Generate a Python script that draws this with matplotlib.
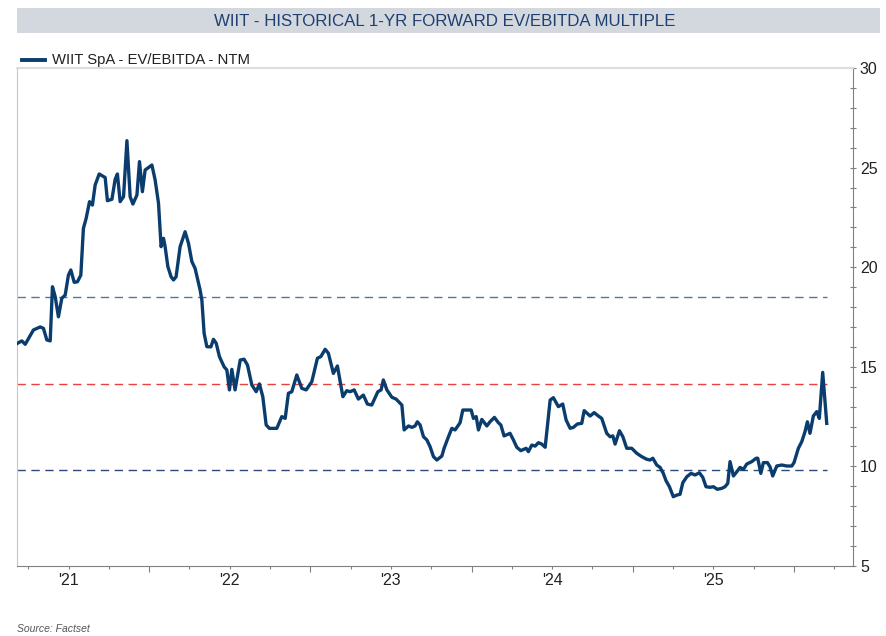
import matplotlib
matplotlib.use('Agg')
import numpy as np
import matplotlib.pyplot as plt
from matplotlib.lines import Line2D
from matplotlib.patches import Rectangle

# decimal years, values
dates = [2021.183, 2021.210, 2021.231, 2021.282, 2021.324, 2021.344, 2021.365, 2021.386,
         2021.400, 2021.417, 2021.437, 2021.458, 2021.479, 2021.499, 2021.514, 2021.535,
         2021.555, 2021.576, 2021.592, 2021.609, 2021.630, 2021.648, 2021.665, 2021.690,
         2021.727, 2021.741, 2021.769, 2021.789, 2021.803, 2021.820, 2021.841, 2021.862,
         2021.882, 2021.899, 2021.924, 2021.940, 2021.958, 2021.975, 2022.017, 2022.037,
         2022.058, 2022.074, 2022.089, 2022.099, 2022.116, 2022.136, 2022.151, 2022.167,
         2022.192, 2022.223, 2022.244, 2022.265, 2022.285, 2022.316, 2022.327, 2022.341,
         2022.358, 2022.383, 2022.399, 2022.416, 2022.436, 2022.465, 2022.482, 2022.498,
         2022.513, 2022.533, 2022.565, 2022.589, 2022.610, 2022.637, 2022.664, 2022.684,
         2022.705, 2022.726, 2022.746, 2022.792, 2022.823, 2022.844, 2022.864, 2022.885,
         2022.916, 2022.947, 2022.974, 2023.009, 2023.044, 2023.065, 2023.092, 2023.112,
         2023.143, 2023.168, 2023.202, 2023.226, 2023.247, 2023.272, 2023.298, 2023.329,
         2023.354, 2023.381, 2023.419, 2023.439, 2023.453, 2023.475, 2023.506, 2023.532,
         2023.568, 2023.582, 2023.609, 2023.630, 2023.650, 2023.664, 2023.681, 2023.702,
         2023.723, 2023.743, 2023.764, 2023.785, 2023.816, 2023.830, 2023.857, 2023.878,
         2023.898, 2023.929, 2023.946, 2023.998, 2024.012, 2024.029, 2024.043, 2024.064,
         2024.095, 2024.115, 2024.142, 2024.167, 2024.182, 2024.202, 2024.239, 2024.260,
         2024.281, 2024.306, 2024.339, 2024.353, 2024.374, 2024.395, 2024.415, 2024.436,
         2024.457, 2024.488, 2024.508, 2024.539, 2024.566, 2024.587, 2024.612, 2024.632,
         2024.657, 2024.684, 2024.699, 2024.736, 2024.761, 2024.787, 2024.808, 2024.839,
         2024.860, 2024.877, 2024.891, 2024.918, 2024.939, 2024.963, 2024.994, 2025.025,
         2025.056, 2025.087, 2025.108, 2025.125, 2025.149, 2025.170, 2025.190, 2025.207,
         2025.228, 2025.252, 2025.274, 2025.294, 2025.311, 2025.336, 2025.362, 2025.387,
         2025.414, 2025.435, 2025.455, 2025.480, 2025.501, 2025.525, 2025.553, 2025.573,
         2025.590, 2025.604, 2025.625, 2025.646, 2025.666, 2025.687, 2025.708, 2025.739,
         2025.766, 2025.776, 2025.795, 2025.811, 2025.836, 2025.852, 2025.869, 2025.894,
         2025.925, 2025.956, 2025.987, 2026.001, 2026.028, 2026.049, 2026.069, 2026.084,
         2026.100, 2026.121, 2026.142, 2026.158, 2026.179, 2026.204]

ev_ebitda = [16.18, 16.30, 16.13, 16.85, 17.00, 16.93, 16.35, 16.30,
             19.02, 18.52, 17.51, 18.44, 18.60, 19.60, 19.86, 19.24,
             19.27, 19.60, 21.95, 22.45, 23.29, 23.12, 24.13, 24.68,
             24.50, 23.34, 23.41, 24.41, 24.68, 23.29, 23.54, 26.35,
             23.54, 23.17, 23.62, 25.30, 23.79, 24.88, 25.13, 24.38,
             23.21, 21.03, 21.45, 21.03, 20.03, 19.52, 19.36, 19.52,
             21.03, 21.78, 21.20, 20.28, 19.94, 18.86, 18.35, 16.68,
             16.01, 16.00, 16.38, 16.18, 15.51, 15.00, 14.84, 13.84,
             14.87, 13.84, 15.34, 15.38, 15.09, 14.09, 13.75, 14.14,
             13.50, 12.08, 11.91, 11.91, 12.50, 12.41, 13.67, 13.75,
             14.59, 13.92, 13.84, 14.25, 15.43, 15.51, 15.88, 15.68,
             14.67, 15.04, 13.50, 13.80, 13.75, 13.84, 13.38, 13.58,
             13.13, 13.08, 13.75, 13.84, 14.34, 13.84, 13.47, 13.38,
             13.08, 11.83, 12.03, 11.96, 12.03, 12.24, 12.08, 11.49,
             11.33, 10.99, 10.49, 10.32, 10.52, 10.91, 11.49, 11.91,
             11.83, 12.19, 12.83, 12.83, 12.41, 12.50, 11.83, 12.36,
             12.03, 12.24, 12.46, 12.19, 12.08, 11.53, 11.66, 11.33,
             10.96, 10.79, 10.91, 10.74, 11.07, 11.02, 11.19, 11.12,
             10.96, 13.33, 13.45, 13.00, 13.13, 12.33, 11.91, 11.96,
             12.13, 12.16, 12.80, 12.53, 12.70, 12.53, 12.41, 11.66,
             11.49, 11.53, 11.12, 11.79, 11.49, 10.91, 10.91, 10.66,
             10.49, 10.36, 10.32, 10.41, 10.07, 9.95, 9.65, 9.28,
             8.98, 8.48, 8.56, 8.60, 9.18, 9.48, 9.65, 9.57,
             9.68, 9.45, 8.98, 8.95, 8.98, 8.85, 8.90, 8.98,
             9.15, 10.24, 9.52, 9.73, 9.95, 9.85, 10.12, 10.24,
             10.41, 10.41, 9.65, 10.19, 10.19, 9.98, 9.52, 10.02,
             10.07, 10.02, 10.02, 10.19, 10.91, 11.24, 11.74, 12.24,
             11.66, 12.53, 12.75, 12.41, 14.72, 12.16]

upper_band = 18.5
mean_level = 14.15
lower_band = 9.8

years = [2021, 2022, 2023, 2024, 2025]
year_labels = ["'21", "'22", "'23", "'24", "'25"]

navy = '#0a3d6e'
narrow = ['Liberation Sans', 'DejaVu Sans']

fig = plt.figure(figsize=(8.87, 6.36), dpi=100)
ax = fig.add_axes([17 / 887, 1 - 566 / 636, 836 / 887, 498 / 636])

ax.plot(dates, ev_ebitda, color=navy, lw=2.4, solid_joinstyle='round', zorder=3)
x0, x1 = dates[0], dates[-1]
ax.plot([x0, x1], [upper_band] * 2, ls=(0, (6, 4)), color='#4f76a8', lw=1.0)
ax.plot([x0, x1], [mean_level] * 2, ls=(0, (6, 4)), color='#e8413f', lw=1.0)
ax.plot([x0, x1], [lower_band] * 2, ls=(0, (6, 4)), color='#2c4a78', lw=1.0)

ax.set_xlim(2021.18, 2026.367)
ax.set_ylim(5, 30)

# x axis: long ticks at year starts, short quarter ticks, labels mid-year
ax.set_xticks([2022, 2023, 2024, 2025, 2026])
ax.set_xticklabels([])
quarters = np.arange(2021.25, 2026.3, 0.25)
ax.set_xticks(quarters, minor=True)
qlabels = []
for q in quarters:
    lab = ''
    for y, l in zip(years, year_labels):
        if abs(q - (y + 0.5)) < 1e-6:
            lab = l
    qlabels.append(lab)
ax.set_xticklabels(qlabels, minor=True, fontsize=11.5, family=narrow, color='#222222')
ax.tick_params(axis='x', which='major', length=4, width=0.8, color='#808080', direction='out')
ax.tick_params(axis='x', which='minor', length=2.5, width=0.8, color='#808080', direction='out', pad=2.5)

# y axis on the right
ax.yaxis.tick_right()
ax.set_yticks([5, 10, 15, 20, 25, 30])
ax.set_yticks(np.arange(5, 31, 1), minor=True)
ax.set_yticklabels(['5', '10', '15', '20', '25', '30'], fontsize=11.5, family=narrow, color='#222222')
ax.tick_params(axis='y', which='major', length=4, width=0.8, color='#808080', direction='inout', pad=3)
ax.tick_params(axis='y', which='minor', length=4, width=0.8, color='#808080', direction='inout')

ax.spines['left'].set_color('#c8c8c8')
ax.spines['top'].set_color('#dcdcdc')
ax.spines['top'].set_linewidth(1.5)
ax.spines['right'].set_color('#808080')
ax.spines['bottom'].set_color('#808080')

# title bar
fig.patches.append(Rectangle((17 / 887, 1 - 33 / 636), 863 / 887, 25 / 636,
                             transform=fig.transFigure, facecolor='#d3d8de', edgecolor='none'))
fig.text(445 / 887, 1 - 21 / 636, 'WIIT - HISTORICAL 1-YR FORWARD EV/EBITDA MULTIPLE',
         ha='center', va='center', fontsize=12.2, color='#1f3f73', family=narrow)

# legend
fig.lines.append(Line2D([22 / 887, 45 / 887], [1 - 60 / 636] * 2, transform=fig.transFigure,
                        color=navy, lw=2.8))
fig.text(52 / 887, 1 - 60 / 636, 'WIIT SpA - EV/EBITDA - NTM', ha='left', va='center',
         fontsize=10.7, color='#222222', family=narrow)

fig.text(17 / 887, 1 - 629 / 636, 'Source: Factset', ha='left', va='center',
         fontsize=7.5, color='#555555', style='italic', family=narrow)

fig.savefig('out.png', dpi=100)
